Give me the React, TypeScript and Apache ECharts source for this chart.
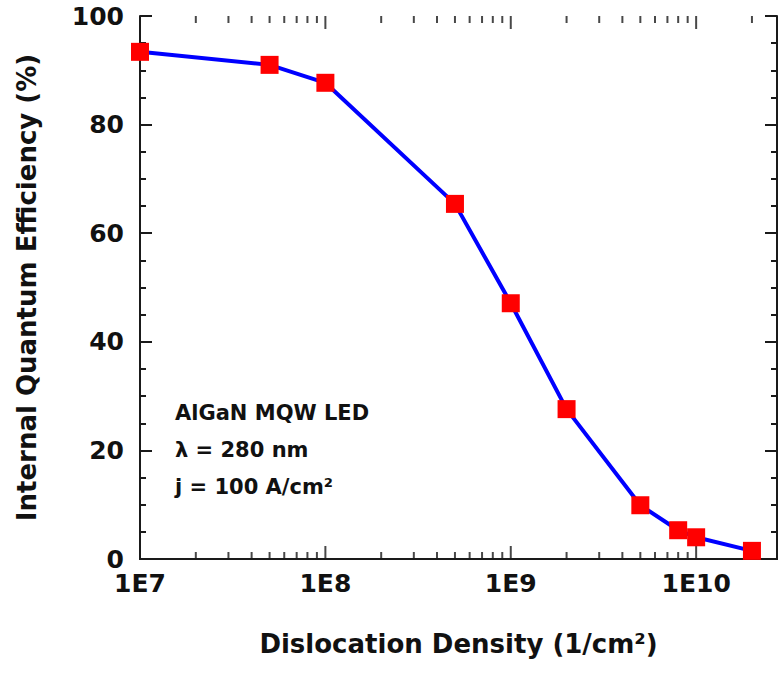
import React, { useEffect, useRef } from "react";
import * as echarts from "echarts";

// Data
const densities = [1e7, 5e7, 1e8, 5e8, 1e9, 2e9, 5e9, 8e9, 1e10, 2e10];
const efficiency = [93.4, 91.0, 87.7, 65.4, 47.1, 27.6, 9.9, 5.3, 4.0, 1.5];
const xTickLabels = ["1E7", "1E8", "1E9", "1E10"];
const majorXTicks = [1e8, 1e9, 1e10];
const minorXTicks = [
  2e7, 3e7, 4e7, 5e7, 6e7, 7e7, 8e7, 9e7,
  2e8, 3e8, 4e8, 5e8, 6e8, 7e8, 8e8, 9e8,
  2e9, 3e9, 4e9, 5e9, 6e9, 7e9, 8e9, 9e9,
  2e10,
];
const annotationLines = ["AlGaN MQW LED", "λ = 280 nm", "j = 100 A/cm²"];

const X_MIN = 1e7;
const X_MAX = 2.73e10;
const FONT = "DejaVu Sans";
const AXIS_COLOR = "#1a1a1a";

function tickSeries(values: number[], yVal: number, len: number, dir: number) {
  return {
    type: "scatter",
    xAxisIndex: 0,
    yAxisIndex: 0,
    silent: true,
    clip: false,
    symbol: "rect",
    symbolSize: [2, len],
    symbolOffset: [0, (dir * len) / 2],
    itemStyle: { color: AXIS_COLOR },
    data: values.map((v) => [v, yVal]),
    z: 1,
  };
}

export default function App() {
  const ref = useRef<HTMLDivElement>(null);

  useEffect(() => {
    if (!ref.current) return;
    const chart = echarts.init(ref.current, undefined, { renderer: "svg" });

    const mkAxisLine = () => ({ show: true, lineStyle: { color: AXIS_COLOR, width: 2 } });
    const mkMajorTick = () => ({ show: true, inside: true, length: 12, lineStyle: { color: AXIS_COLOR, width: 2 } });
    const mkMinorTick = () => ({ show: true, splitNumber: 4, length: 6, lineStyle: { color: AXIS_COLOR, width: 2 } });

    const xLabelFormatter = (v: number) => {
      const lg = Math.log10(v);
      const r = Math.round(lg);
      if (Math.abs(lg - r) > 1e-6) return "";
      return xTickLabels[r - 7] ?? "";
    };

    chart.setOption({
      animation: false,
      backgroundColor: "#ffffff",
      grid: { left: 140, right: 1, top: 16, bottom: 114, containLabel: false },
      xAxis: [
        {
          type: "log",
          logBase: 10,
          min: X_MIN,
          max: X_MAX,
          position: "bottom",
          axisLine: mkAxisLine(),
          axisTick: { show: false },
          splitLine: { show: false },
          axisLabel: {
            show: true,
            margin: 12,
            color: "#111",
            fontFamily: FONT,
            fontWeight: "bold",
            fontSize: 25,
            showMaxLabel: false,
            formatter: xLabelFormatter,
          },
          name: "Dislocation Density (1/cm²)",
          nameLocation: "middle",
          nameGap: 72,
          nameTextStyle: { color: "#111", fontFamily: FONT, fontWeight: "bold", fontSize: 26 },
        },
        {
          type: "log",
          logBase: 10,
          min: X_MIN,
          max: X_MAX,
          position: "top",
          axisLine: mkAxisLine(),
          axisTick: { show: false },
          splitLine: { show: false },
          axisLabel: { show: false },
        },
      ],
      yAxis: [
        {
          type: "value",
          min: 0,
          max: 100,
          interval: 20,
          position: "left",
          axisLine: mkAxisLine(),
          axisTick: mkMajorTick(),
          minorTick: mkMinorTick(),
          splitLine: { show: false },
          minorSplitLine: { show: false },
          axisLabel: {
            margin: 16,
            color: "#111",
            fontFamily: FONT,
            fontWeight: "bold",
            fontSize: 25,
            padding: [0, 0, 6, 0],
          },
          name: "Internal Quantum Efficiency (%)",
          nameLocation: "middle",
          nameGap: 100,
          nameTextStyle: { color: "#111", fontFamily: FONT, fontWeight: "bold", fontSize: 26 },
        },
        {
          type: "value",
          min: 0,
          max: 100,
          interval: 20,
          position: "right",
          axisLine: mkAxisLine(),
          axisTick: mkMajorTick(),
          minorTick: mkMinorTick(),
          splitLine: { show: false },
          minorSplitLine: { show: false },
          axisLabel: { show: false },
        },
      ],
      graphic: annotationLines.map((t, i) => ({
        type: "text",
        x: 175,
        y: 413 + i * 37,
        style: {
          text: t,
          fill: "#111",
          font: `bold 21px "${FONT}"`,
          textVerticalAlign: "middle",
          textAlign: "left",
        },
        z: 10,
      })),
      series: [
        tickSeries(minorXTicks, 0, 7, -1),
        tickSeries(minorXTicks, 100, 7, 1),
        tickSeries(majorXTicks, 0, 13, -1),
        tickSeries(majorXTicks, 100, 13, 1),
        {
          type: "line",
          xAxisIndex: 0,
          yAxisIndex: 0,
          data: densities.map((d, i) => [d, efficiency[i]]),
          symbol: "rect",
          symbolSize: 18,
          showAllSymbol: true,
          lineStyle: { color: "#0000ff", width: 4 },
          itemStyle: { color: "#ff0000" },
          z: 3,
        },
      ],
    });

    return () => chart.dispose();
  }, []);

  return (
    <div
      ref={ref}
      style={{ position: "fixed", left: 0, top: 0, width: 778, height: 673, background: "#fff" }}
    />
  );
}
